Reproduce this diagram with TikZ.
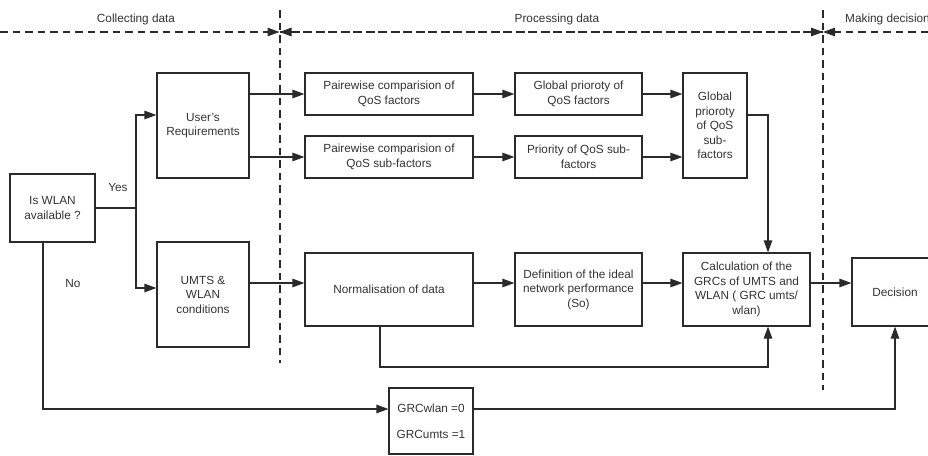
\documentclass[tikz,border=0pt]{standalone}
\usepackage{fontspec}
\setmainfont{Liberation Sans}
\usetikzlibrary{arrows.meta}
\definecolor{ink}{HTML}{2A2A2A}
\definecolor{txt}{HTML}{333333}
\tikzset{
  box/.style={draw=ink, line width=1.2pt, rectangle, align=center, inner sep=1pt,
    font=\fontsize{11.8}{14.5}\selectfont, text=txt},
  lbl/.style={font=\fontsize{11.8}{14.5}\selectfont, text=txt, inner sep=0pt},
  conn/.style={draw=ink, line width=1.2pt},
  arr/.style={conn, -{Triangle[length=12pt,width=8.5pt]}},
  dline/.style={draw=ink, line width=1.2pt, dash pattern=on 7.5pt off 5pt},
  darr/.style={dline, -{Triangle[length=12pt,width=8.5pt]}}
}
\begin{document}
\begin{tikzpicture}[x=1pt,y=-1pt]
\useasboundingbox (0,0) rectangle (928,455);

% header
\coordinate (hL) at (0,32);
\coordinate (h1) at (279.5,32);
\coordinate (h2) at (823,32);
\coordinate (hR) at (928,32);
\coordinate (v1t) at (280,10);
\coordinate (v1b) at (280,363);
\coordinate (v2t) at (823,10);
\coordinate (v2b) at (823,390);
\draw[dline] (v1t) -- (v1b);
\draw[dline] (v2t) -- (v2b);
\draw[darr] (hL) -- (h1);
\draw[darr] (h2) -- (h1);
\draw[darr] (h1) -- (h2);
\draw[darr] (hR) -- (h2);
\node[lbl] (tcol) at (136,19) {Collecting data};
\node[lbl] (tpro) at (557,19) {Processing data};
\node[lbl,anchor=west] (tmak) at (845,19) {Making decision};

% boxes
\node[box, minimum width=85pt, minimum height=68pt] (wlan) at (52.5,208) {Is WLAN\\available ?};
\node[box, minimum width=92pt, minimum height=105pt] (user) at (203,125.5) {User's\\Requirements};
\node[box, minimum width=92pt, minimum height=105pt] (umts) at (203,294.5) {UMTS \&\\WLAN\\conditions};
\node[box, minimum width=168pt, minimum height=42pt] (pw1) at (389,94) {Pairewise comparision of\\QoS factors};
\node[box, minimum width=168pt, minimum height=42pt] (pw2) at (389,157) {Pairewise comparision of\\QoS sub-factors};
\node[box, minimum width=127pt, minimum height=42pt] (gp1) at (578.5,94) {Global prioroty of\\QoS factors};
\node[box, minimum width=127pt, minimum height=42pt] (gp2) at (578.5,157) {Priority of QoS sub-\\factors};
\node[box, minimum width=64pt, minimum height=105pt] (gps) at (715,125.5) {Global\\prioroty\\of QoS\\sub-\\factors};
\node[box, minimum width=168pt, minimum height=73pt] (norm) at (389,289.5) {Normalisation of data};
\node[box, minimum width=127pt, minimum height=73pt] (def) at (578.5,289.5) {Definition of the ideal\\network performance\\(So)};
\node[box, minimum width=127pt, minimum height=73pt] (calc) at (746.5,289.5) {Calculation of the\\GRCs of UMTS and\\WLAN ( GRC umts/\\wlan)};
\node[box, minimum width=86pt, minimum height=68pt] (dec) at (895,292) {Decision};
\node[box, minimum width=84pt, minimum height=66pt, font=\fontsize{11.8}{26}\selectfont] (grc) at (431,421) {GRCwlan =0\\GRCumts =1};

\node[lbl] (yes) at (118,187) {Yes};
\node[lbl] (no) at (73,283) {No};

% helper coordinates
\coordinate (jY) at (136,208);
\coordinate (yU) at (0,115);
\coordinate (yM) at (0,288);
\coordinate (yR) at (0,283);
\coordinate (yG) at (0,115);
\coordinate (xC) at (768,0);
\coordinate (xN) at (380,0);
\coordinate (yL) at (0,367);
\coordinate (xNo) at (43,0);
\coordinate (yB) at (0,409);

% connectors
\draw[conn] (wlan) -- (jY);
\draw[arr] (jY) |- (user.west |- yU);
\draw[arr] (jY) |- (umts.west |- yM);
\draw[arr] (user.east |- pw1) -- (pw1);
\draw[arr] (user.east |- pw2) -- (pw2);
\draw[arr] (pw1) -- (gp1);
\draw[arr] (pw2) -- (gp2);
\draw[arr] (gp1.east) -- (gps.west |- gp1);
\draw[arr] (gp2.east) -- (gps.west |- gp2);
\draw[arr] (gps.east |- yG) -| (calc.north -| xC);
\draw[arr] (umts.east |- yR) -- (norm.west |- yR);
\draw[arr] (norm.east |- yR) -- (def.west |- yR);
\draw[arr] (def.east |- yR) -- (calc.west |- yR);
\draw[arr] (calc.east |- yR) -- (dec.west |- yR);
\draw[arr] (norm.south -| xN) -- (xN |- yL) -| (calc.south -| xC);
\draw[arr] (wlan.south -| xNo) |- (grc.west |- yB);
\draw[arr] (grc.east |- yB) -| (dec.south);
\end{tikzpicture}
\end{document}
